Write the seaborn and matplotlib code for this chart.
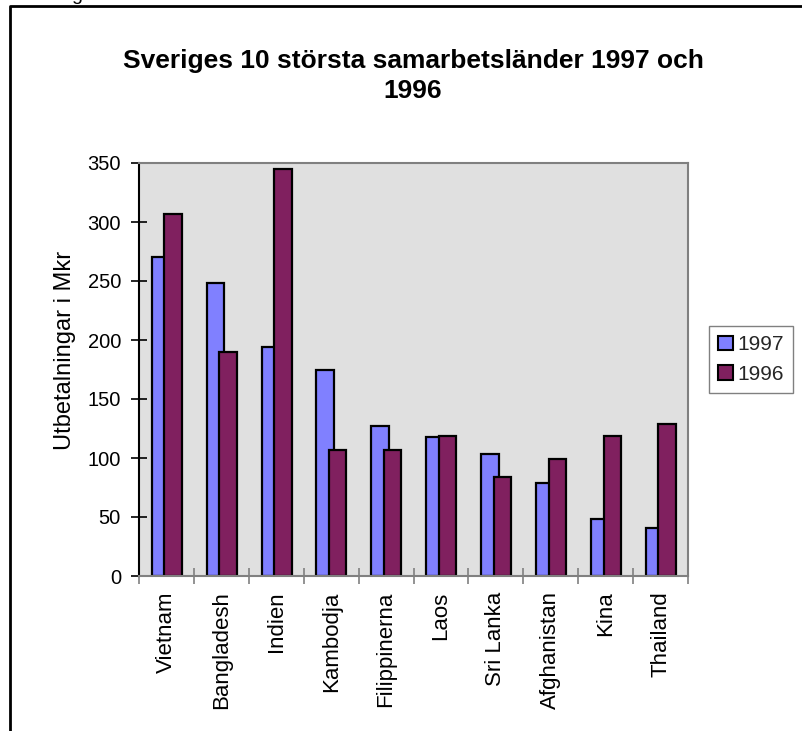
import numpy as np
import pandas as pd
import matplotlib
matplotlib.use("Agg")
import matplotlib.pyplot as plt
import seaborn as sns
from matplotlib.lines import Line2D

countries = ["Vietnam", "Bangladesh", "Indien", "Kambodja", "Filippinerna",
             "Laos", "Sri Lanka", "Afghanistan", "Kina", "Thailand"]
values_1997 = [270, 248, 194, 175, 127, 118, 103, 79, 48, 41]
values_1996 = [307, 190, 345, 107, 107, 119, 84, 99, 119, 129]
years = ["1997", "1996"]
yticks = [0, 50, 100, 150, 200, 250, 300, 350]

df = pd.DataFrame({
    "Land": countries * 2,
    "År": [years[0]] * len(countries) + [years[1]] * len(countries),
    "Mkr": values_1997 + values_1996,
})

sns.set_theme(style="white")
plt.rcParams["font.family"] = ["Liberation Sans", "DejaVu Sans"]

W, H = 802, 731
fig = plt.figure(figsize=(W / 100, H / 100), dpi=100)
fig.patch.set_facecolor("white")
ax = fig.add_axes([139 / W, 1 - 576 / H, (688 - 139) / W, (576 - 163) / H])

sns.barplot(data=df, x="Land", y="Mkr", hue="År", hue_order=years,
            palette={"1997": "#8080FF", "1996": "#80205F"}, saturation=1,
            edgecolor="black", linewidth=1.6, width=0.6, ax=ax, legend=True)

# Excel-style overlapping bars
bar_w = 0.317
offsets = {"1997": -0.11, "1996": 0.12}
for container, yr in zip(ax.containers, years):
    for i, p in enumerate(container):
        p.set_width(bar_w)
        p.set_x(i + offsets[yr] - bar_w / 2)

ax.set_facecolor("#E0E0E0")
ax.set_xlim(-0.5, len(countries) - 0.5)
ax.set_ylim(0, 350)
ax.set_yticks(yticks)
ax.set_yticklabels([str(t) for t in yticks])

for s in ["top", "right", "bottom"]:
    ax.spines[s].set_color("#808080")
    ax.spines[s].set_linewidth(1.5)
    ax.spines[s].set_visible(True)
ax.spines["left"].set_color("black")
ax.spines["left"].set_linewidth(1.5)
ax.spines["left"].set_visible(True)

ax.tick_params(axis="y", which="major", direction="inout", length=12, width=1.2,
               color="black", labelsize=14.5, pad=7, left=True, labelcolor="black")
ax.set_xticks(range(len(countries)))
ax.set_xticklabels(countries, rotation=90)
ax.tick_params(axis="x", which="major", length=0, labelsize=16, pad=11,
               labelcolor="black")
ax.set_xticks(np.arange(-0.5, len(countries), 1), minor=True)
ax.tick_params(axis="x", which="minor", direction="inout", length=12, width=1.2,
               color="#808080", bottom=True)

ax.set_xlabel("")
ax.set_ylabel("Utbetalningar i Mkr", fontsize=17, color="black")
ax.yaxis.set_label_coords((76 - 139) / (688 - 139), (576 - 350) / (576 - 163))

fig.text(413 / W, 1 - 76 / H, "Sveriges 10 största samarbetsländer 1997 och\n1996",
         ha="center", va="center", fontsize=19, fontweight="bold",
         linespacing=1.35, color="black")

leg = ax.legend(loc="center left", bbox_to_anchor=(709 / W, 1 - 359.5 / H),
                bbox_transform=fig.transFigure, frameon=True, fancybox=False,
                edgecolor="#808080", facecolor="white", framealpha=1,
                fontsize=15, handlelength=0.7, handleheight=0.7,
                handletextpad=0.2, borderpad=0.45, labelspacing=0.5,
                borderaxespad=0)
leg.get_frame().set_linewidth(1.0)
for h in leg.legend_handles:
    h.set_edgecolor("black")
    h.set_linewidth(1.5)

# outer chart frame (partially visible)
fig.add_artist(Line2D([10 / W, 10 / W, 1.0], [0, 1 - 6 / H, 1 - 6 / H],
                      transform=fig.transFigure, color="black", lw=2))
fig.text(77 / W, 1.0, "g", ha="center", va="baseline", fontsize=14, color="black")

fig.savefig("out.png", dpi=100)
